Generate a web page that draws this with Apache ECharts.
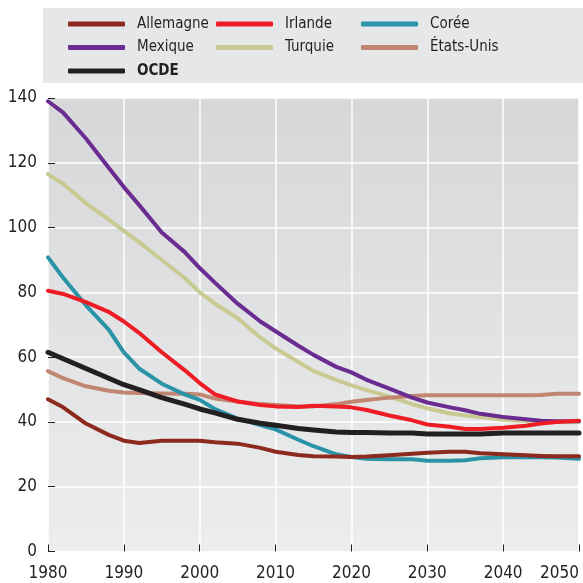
<!DOCTYPE html>
<html>
<head>
<meta charset="utf-8">
<script src="https://cdn.jsdelivr.net/npm/echarts@6/dist/echarts.min.js"></script>
<style>
html,body{margin:0;padding:0;background:#fff;}
#chart{width:583px;height:583px;}
</style>
</head>
<body>
<div id="chart"></div>
<script>
const years = [1980,1982,1985,1988,1990,1992,1995,1998,2000,2002,2005,2008,2010,2013,2015,2018,2020,2022,2025,2028,2030,2033,2035,2037,2040,2043,2045,2047,2050];
const allemagne = [47,44.5,39.5,36,34.2,33.5,34.2,34.2,34.2,33.7,33.3,32,30.8,29.8,29.4,29.3,29.2,29.3,29.7,30.2,30.5,30.8,30.8,30.3,30,29.7,29.5,29.4,29.4];
const irlande = [80.5,79.5,77,74,71,67.5,61.5,56,52,48.5,46.3,45.2,44.8,44.6,45,44.8,44.5,43.7,42,40.5,39.2,38.5,37.8,37.8,38.2,38.8,39.5,40,40.4];
const coree = [90.8,84.5,76,68.5,61.5,56.5,51.8,48.5,46.8,44,41,39,37.7,34.5,32.5,30,29.2,28.6,28.5,28.5,28,28,28.2,28.8,29.1,29.1,29.1,29,28.6];
const mexique = [139,135.5,127.5,118.5,112.5,107,98.5,92.5,87.5,83,76.5,71,68,63.5,60.7,57,55.3,53,50.3,47.5,46,44.5,43.6,42.5,41.5,40.8,40.4,40.2,40.2];
const turquie = [116.5,113.5,107.5,102.5,99,95.5,90,84.5,80,76.5,72,66,62.7,58.5,55.7,53,51.3,49.8,47.8,45.5,44.2,42.6,42,41.5,40.7,40.3,40.1,40,40];
const etatsUnis = [55.7,53.5,51,49.6,49.1,48.9,48.8,48.7,48.5,47.2,46.3,45.5,45.2,44.8,44.8,45.5,46.2,46.8,47.5,48,48.2,48.2,48.2,48.2,48.2,48.2,48.3,48.7,48.7];
const ocde = [61.5,59.5,56.5,53.5,51.5,50,47.5,45.5,44,42.8,40.8,39.6,39,38,37.5,36.9,36.7,36.7,36.6,36.6,36.3,36.3,36.3,36.3,36.6,36.6,36.6,36.6,36.6];

const FONT = '"Liberation Sans Narrow", "DejaVu Sans Condensed", "Liberation Sans", sans-serif';
const pairs = arr => years.map((y, i) => [y, arr[i]]);

const seriesDefs = [
  {name: 'Turquie', data: turquie, color: '#C9CA92', w: 4},
  {name: 'États-Unis', data: etatsUnis, color: '#C08672', w: 4},
  {name: 'Corée', data: coree, color: '#2A93A8', w: 4},
  {name: 'Allemagne', data: allemagne, color: '#8C2A1E', w: 4},
  {name: 'Mexique', data: mexique, color: '#6A2C91', w: 4},
  {name: 'Irlande', data: irlande, color: '#EE1C25', w: 4},
  {name: 'OCDE', data: ocde, color: '#231F20', w: 5}
];

const legendBase = {
  orient: 'vertical',
  top: 11.5,
  icon: 'roundRect',
  itemWidth: 57,
  itemHeight: 5,
  itemGap: 8.5,
  textStyle: {fontFamily: FONT, fontSize: 15, color: '#231F20', padding: [0,0,0,7]},
  selectedMode: false
};

const chart = echarts.init(document.getElementById('chart'), null, {renderer: 'canvas'});
chart.setOption({
  animation: false,
  backgroundColor: '#ffffff',
  graphic: [{type: 'rect', shape: {x: 43, y: 8, width: 540, height: 75}, style: {fill: '#E6E7E8'}, z: -10}],
  legend: [
    Object.assign({}, legendBase, {left: 63, data: ['Allemagne', 'Mexique', {name: 'OCDE', textStyle: {fontWeight: 'bold'}}]}),
    Object.assign({}, legendBase, {left: 211, data: ['Irlande', 'Turquie']}),
    Object.assign({}, legendBase, {left: 356, data: ['Corée', 'États-Unis']})
  ],
  grid: {
    left: 48, right: 4, top: 98, bottom: 31.5,
    show: true, borderWidth: 0,
    backgroundColor: {type: 'linear', x: 0, y: 0, x2: 0, y2: 1,
      colorStops: [{offset: 0, color: '#D6D7D9'}, {offset: 1, color: '#ECEDED'}]}
  },
  xAxis: {
    type: 'value', min: 1980, max: 2050, interval: 10,
    axisLine: {show: false},
    axisTick: {show: true, inside: true, length: 7, lineStyle: {color: '#231F20', width: 1}},
    splitLine: {show: true, lineStyle: {color: '#ffffff', width: 1.5}},
    axisLabel: {fontFamily: FONT, fontSize: 17, color: '#231F20', margin: 14, alignMaxLabel: 'right', formatter: v => String(v)}
  },
  yAxis: {
    type: 'value', min: 0, max: 140, interval: 20,
    axisLine: {show: false},
    axisTick: {show: true, inside: true, length: 7, lineStyle: {color: '#231F20', width: 1}},
    splitLine: {show: true, lineStyle: {color: '#ffffff', width: 1.5}},
    axisLabel: {fontFamily: FONT, fontSize: 17, color: '#231F20', margin: 11}
  },
  series: seriesDefs.map(s => ({
    name: s.name, type: 'line', data: pairs(s.data), showSymbol: false, smooth: false,
    color: s.color,
    lineStyle: {color: s.color, width: s.w, cap: 'round', join: 'round'},
    itemStyle: {color: s.color}
  }))
});
</script>
</body>
</html>
